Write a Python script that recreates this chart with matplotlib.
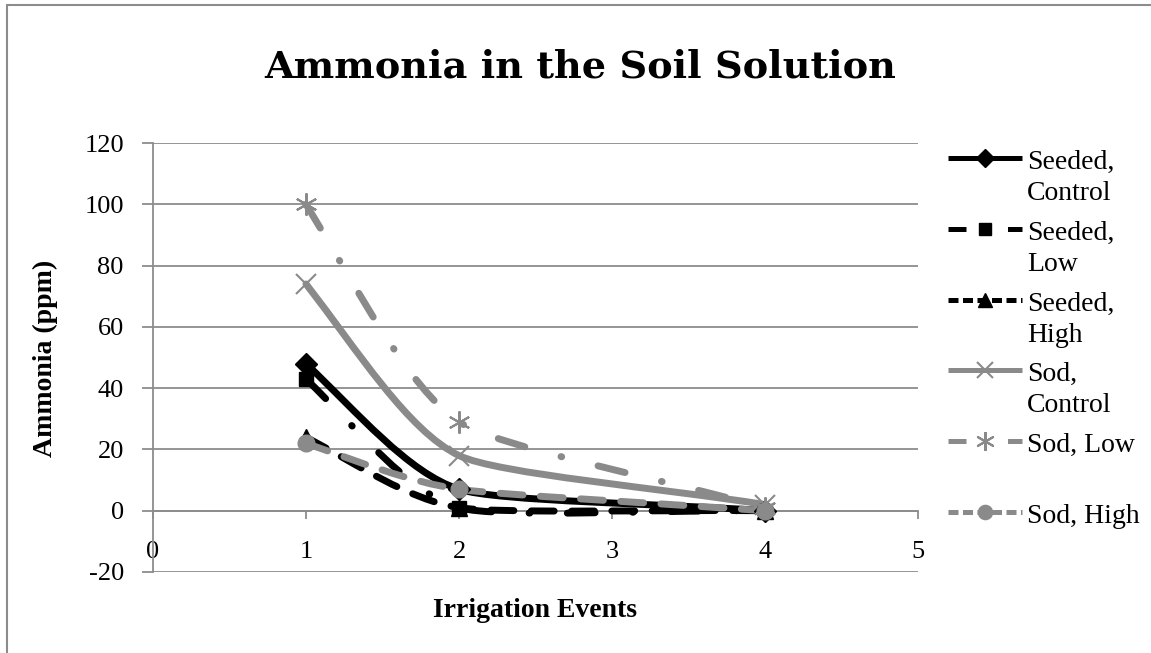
import matplotlib
matplotlib.use("Agg")
import matplotlib.pyplot as plt
from matplotlib.path import Path
from matplotlib.patches import PathPatch, Rectangle
from matplotlib.lines import Line2D

# data
events = [1, 2, 4]
seeded_control = [48, 7, 0]
seeded_low = [43, 1, 0]
seeded_high = [24, 1, 0]
sod_control = [74, 18, 2]
sod_low = [100, 29, 1]
sod_high = [22, 7, 0]

labels = ["Seeded,\nControl", "Seeded,\nLow", "Seeded,\nHigh",
          "Sod,\nControl", "Sod, Low", "Sod, High"]
series = [seeded_control, seeded_low, seeded_high, sod_control, sod_low, sod_high]

GRAY = "#8a8a8a"
GRID = "#8c8c8c"
DASHDOT = (4, 5.4, 0.1, 5.4)
DASH = (3.3, 2.5)

styles = [
    dict(color="black", marker="D", ms=11, mew=1, dashes=None, leg=None),
    dict(color="black", marker="s", ms=10, mew=1, dashes=DASHDOT, leg=(3.6, 8.3)),
    dict(color="black", marker="^", ms=12, mew=1, dashes=DASH, leg=(2, 0.9)),
    dict(color=GRAY, marker="x", ms=14, mew=1.5, dashes=None, leg=None),
    dict(color=GRAY, marker=(6, 2, 0), ms=16, mew=1.5, dashes=DASHDOT, leg=(3.6, 8.3)),
    dict(color=GRAY, marker="o", ms=12, mew=1, dashes=DASH, leg=(2, 0.9)),
]

plt.rcParams['font.family'] = ['Liberation Serif', 'DejaVu Serif']
plt.rcParams['axes.unicode_minus'] = False

W, H = 1151, 653


def smooth_path(xs, ys):
    # bezier curve through the points, like the spreadsheet's smoothed line
    n = len(xs)
    slopes = []
    for i in range(n):
        if i == 0:
            slopes.append(1.15 * (ys[1] - ys[0]) / (xs[1] - xs[0]))
        elif i == n - 1:
            slopes.append((ys[-1] - ys[-2]) / (xs[-1] - xs[-2]))
        else:
            slopes.append((ys[i + 1] - ys[i - 1]) / (xs[i + 1] - xs[i - 1]))
    verts = [(xs[0], ys[0])]
    codes = [Path.MOVETO]
    for i in range(n - 1):
        dx = xs[i + 1] - xs[i]
        h0 = dx / 3 if i == 0 else dx / 8
        h1 = dx / 3
        verts += [(xs[i] + h0, ys[i] + h0 * slopes[i]),
                  (xs[i + 1] - h1, ys[i + 1] - h1 * slopes[i + 1]),
                  (xs[i + 1], ys[i + 1])]
        codes += [Path.CURVE4] * 3
    return Path(verts, codes)


fig = plt.figure(figsize=(W / 100, H / 100), dpi=100)
ax = fig.add_axes([153 / W, 81 / H, 765 / W, 429 / H])

for ys, st in zip(series, styles):
    patch = PathPatch(smooth_path(events, ys), fill=False, edgecolor=st["color"],
                      lw=5, capstyle="round", joinstyle="round", zorder=3)
    if st["dashes"] is not None:
        patch.set_linestyle((0, st["dashes"]))
    ax.add_patch(patch)
    ax.plot(events, ys, linestyle="none", marker=st["marker"], ms=st["ms"],
            mew=st["mew"], color=st["color"], zorder=4)

ax.set_xlim(0, 5)
ax.set_ylim(-20, 120)
ax.set_xticks(range(0, 6))
ax.set_yticks(range(-20, 121, 20))
ax.yaxis.grid(True, color=GRID, lw=1.3)
ax.set_axisbelow(True)
ax.spines['top'].set_visible(False)
ax.spines['right'].set_visible(False)
ax.spines['bottom'].set_position(('data', 0))
ax.spines['bottom'].set_color(GRID)
ax.spines['left'].set_color(GRID)
ax.spines['bottom'].set_linewidth(1.3)
ax.spines['left'].set_linewidth(1.3)
ax.tick_params(axis='x', direction='out', length=6, width=1.3, color=GRID, pad=16, labelsize=19)
ax.tick_params(axis='y', direction='out', length=8, width=1.3, color=GRID, pad=13, labelsize=19)

fig.text(580 / W, 1 - 77 / H, "Ammonia in the Soil Solution", family="DejaVu Serif",
         weight="bold", fontsize=27.5, ha="center", va="baseline")
fig.text(535 / W, 1 - 617 / H, "Irrigation Events", weight="bold", fontsize=20,
         ha="center", va="baseline")
fig.text(45 / W, 1 - 358 / H, "Ammonia (ppm)", weight="bold", fontsize=20,
         rotation=90, ha="center", va="center")

# legend drawn by hand so the handle sits on the first text line
leg_y = [158, 229, 300, 370, 441, 512]
for lab, st, y in zip(labels, styles, leg_y):
    line = Line2D([948 / W, 1022 / W], [1 - y / H, 1 - y / H], transform=fig.transFigure,
                  color=st["color"], lw=3.6, solid_capstyle="butt", dash_capstyle="butt")
    if st["leg"] is not None:
        line.set_dashes(st["leg"])
    fig.add_artist(line)
    fig.add_artist(Line2D([985 / W], [1 - y / H], transform=fig.transFigure, linestyle="none",
                          marker=st["marker"], ms=st["ms"] * 0.85, mew=st["mew"],
                          color=st["color"]))
    for k, part in enumerate(lab.split("\n")):
        fig.text(1027 / W, 1 - (y + 11 + 31 * k) / H, part, fontsize=20,
                 ha="left", va="baseline")

fig.add_artist(Rectangle((7 / W, -0.1), 1.2, 1.1 - 5 / H, transform=fig.transFigure,
                         fill=False, edgecolor=GRID, lw=1.5))

fig.savefig("out.png", dpi=100)
